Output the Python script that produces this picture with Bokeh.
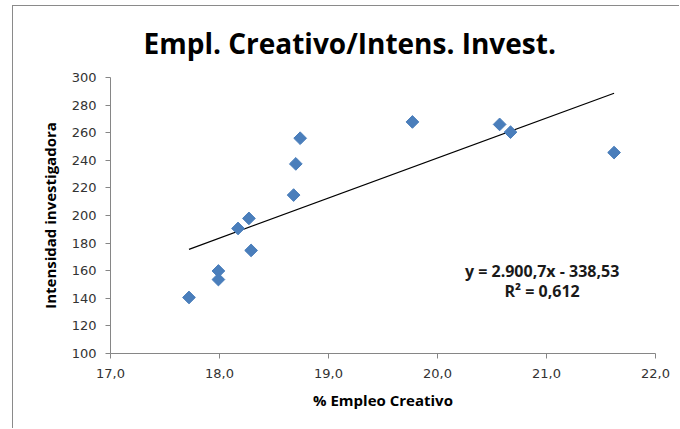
import math
from bokeh.plotting import figure
from bokeh.models import Range1d, Label, FixedTicker, CustomJSTickFormatter
from bokeh.embed import file_html
from bokeh.resources import INLINE

# % creative employment vs research intensity
empleo_creativo = [17.72, 17.99, 17.99, 18.17, 18.27, 18.29, 18.68, 18.70, 18.74,
                   19.77, 20.57, 20.67, 21.62]
intensidad = [140.6, 159.8, 153.6, 190.6, 197.9, 174.7, 214.8, 237.4, 256.0,
              267.8, 266.0, 260.4, 245.6]

# linear trend (x as a fraction): y = 2900.7 x - 338.53, R² = 0.612
pendiente = 2900.7
ordenada = -338.53
r2 = 0.612

x_ticks = [17.0, 18.0, 19.0, 20.0, 21.0, 22.0]
y_ticks = [100, 120, 140, 160, 180, 200, 220, 240, 260, 280, 300]

FONT = "Open Sans"

p = figure(width=667, height=423, output_backend="svg", toolbar_location=None,
           x_range=Range1d(17, 22), y_range=Range1d(100, 300),
           min_border_left=97, min_border_right=25,
           min_border_top=70, min_border_bottom=76)
p.styles = {"border-left": "1px solid #8a8a8a", "border-top": "1px solid #8a8a8a",
            "margin-left": "12px", "margin-top": "5px"}

p.title.text = "Empl. Creativo/Intens. Invest."
p.title.align = "left"
p.title.offset = 33
p.title.standoff = 31
p.title.text_font = FONT
p.title.text_font_style = "bold"
p.title.text_font_size = "28px"
p.title.text_color = "#000000"

p.outline_line_color = None
p.background_fill_color = "white"
p.border_fill_color = "white"
p.xgrid.visible = False
p.ygrid.visible = False

for ax in (p.xaxis[0], p.yaxis[0]):
    ax.axis_line_color = "#868686"
    ax.major_tick_line_color = "#868686"
    ax.major_tick_in = 0
    ax.major_tick_out = 5
    ax.minor_tick_line_color = None
    ax.major_label_text_font = "DejaVu Sans"
    ax.major_label_text_font_size = "13px"
    ax.major_label_text_color = "#333333"
    ax.axis_label_text_font = FONT
    ax.axis_label_text_font_style = "bold"
    ax.axis_label_text_font_size = "15px"
    ax.axis_label_text_color = "#000000"

p.xaxis.ticker = FixedTicker(ticks=x_ticks)
p.xaxis.formatter = CustomJSTickFormatter(code="return tick.toFixed(1).replace('.', ',');")
p.xaxis.major_label_standoff = 10
p.xaxis.axis_label = "% Empleo Creativo"
p.xaxis.axis_label_standoff = 9

p.yaxis.ticker = FixedTicker(ticks=y_ticks)
p.yaxis.major_label_standoff = 9
p.yaxis.axis_label = "Intensidad investigadora"
p.yaxis.axis_label_standoff = 9

# trend line across the observed range
x0, x1 = min(empleo_creativo), max(empleo_creativo)
p.line([x0, x1], [pendiente * x0 / 100 + ordenada, pendiente * x1 / 100 + ordenada],
       line_color="#000000", line_width=1.2)

p.scatter(empleo_creativo, intensidad, marker="square", angle=math.pi / 4, size=9,
          fill_color="#4a7ebb", line_color="#4a7ebb")

eq = "y = 2.900,7x - 338,53"
r2_txt = "R² = " + f"{r2:.3f}".replace(".", ",")
p.add_layout(Label(x=20.96, y=160.1, text=eq, text_font=FONT, text_font_style="bold",
                   text_font_size="16px", text_align="center", text_baseline="middle",
                   text_color="#1a1a1a"))
p.add_layout(Label(x=20.96, y=145.3, text=r2_txt, text_font=FONT, text_font_style="bold",
                   text_font_size="16px", text_align="center", text_baseline="middle",
                   text_color="#1a1a1a"))

open("out.html", "w").write(file_html(p, INLINE))
